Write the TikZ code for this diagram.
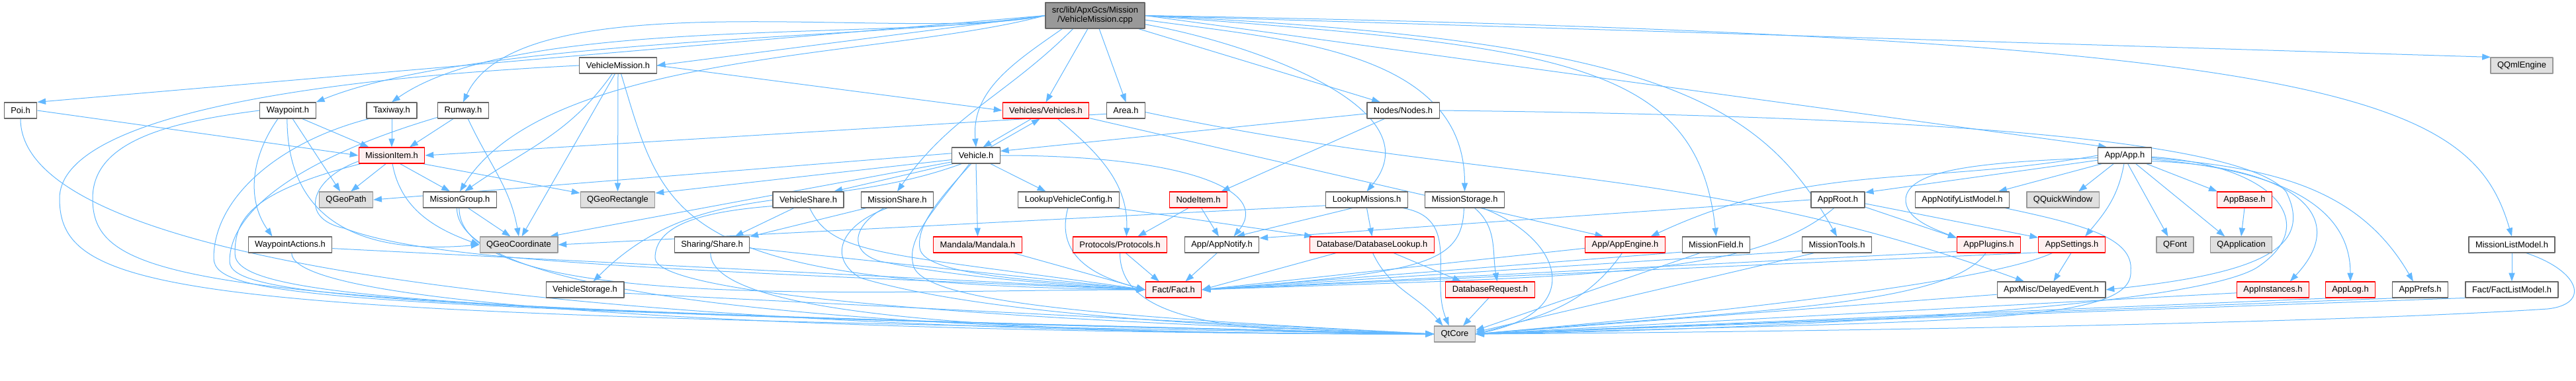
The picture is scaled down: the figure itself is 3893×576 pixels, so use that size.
\documentclass[tikz,border=0pt]{standalone}
\usepackage{fontspec}
\setmainfont{Liberation Sans}
\usetikzlibrary{arrows.meta,backgrounds}
\definecolor{edgeblue}{RGB}{99,184,255}
\definecolor{rootfill}{RGB}{153,153,153}
\definecolor{extfill}{RGB}{224,224,224}
\definecolor{extline}{RGB}{153,153,153}
\definecolor{redfill}{RGB}{255,240,240}
\definecolor{boxline}{RGB}{102,102,102}

\begin{document}
\begin{tikzpicture}[x=0.25mm, y=-0.25mm, >={Triangle[length=3.2mm,width=2.3mm]}, line join=round]
\tikzset{
  hdr/.style={draw=boxline, fill=white, line width=0.3mm, inner xsep=2.5mm, inner ysep=0pt,
    minimum height=6mm, font=\fontsize{9.2}{10}\selectfont},
  hdrred/.style={hdr, draw=red, fill=redfill},
  hdrext/.style={hdr, draw=extline, fill=extfill},
  hdrroot/.style={hdr, fill=rootfill, align=center, minimum height=9.75mm},
  dep/.style={->, draw=edgeblue, line width=0.25mm},
  low/.style 2 args={to path={.. controls +(0,#1) and +(-#2,0) .. (\tikztotarget)}},
}
\useasboundingbox (0,0) rectangle (3893,576);

\node[hdrroot] (root) at (1655,23.5) {src/lib/ApxGcs/Mission\\/VehicleMission.cpp};
\node[hdr] (vmh) at (934,99) {VehicleMission.h};
\node[hdrext] (qml) at (3811,99) {QQmlEngine};

\node[hdr] (poi) at (31,167) {Poi.h};
\node[hdr] (wp) at (435,167) {Waypoint.h};
\node[hdr] (taxi) at (592,167) {Taxiway.h};
\node[hdr] (rwy) at (700,167) {Runway.h};
\node[hdrred] (vehs) at (1580.5,167) {Vehicles/Vehicles.h};
\node[hdr] (area) at (1701.5,167) {Area.h};
\node[hdr] (nodes) at (2120.5,167) {Nodes/Nodes.h};

\node[hdrred] (mitem) at (592,235) {MissionItem.h};
\node[hdr] (veh) at (1475,235) {Vehicle.h};
\node[hdr] (app) at (3211,235) {App/App.h};

\node[hdrext] (qpath) at (523,302) {QGeoPath};
\node[hdr] (mgrp) at (695,302) {MissionGroup.h};
\node[hdrext] (qrect) at (933.5,302) {QGeoRectangle};
\node[hdr] (vshare) at (1221.5,302) {VehicleShare.h};
\node[hdr] (mshare) at (1356,302) {MissionShare.h};
\node[hdr] (lvcfg) at (1615,302) {LookupVehicleConfig.h};
\node[hdrred] (nitem) at (1811,302) {NodeItem.h};
\node[hdr] (lmis) at (2065.5,302) {LookupMissions.h};
\node[hdr] (mstor) at (2213.5,302) {MissionStorage.h};
\node[hdr] (aroot) at (2777.5,302) {AppRoot.h};
\node[hdr] (anlm) at (2965.5,302) {AppNotifyListModel.h};
\node[hdrext] (qqw) at (3117.5,302) {QQuickWindow};
\node[hdrred] (abase) at (3392,302) {AppBase.h};

\node[hdr] (wpact) at (438.5,370) {WaypointActions.h};
\node[hdrext] (qcoord) at (784,370) {QGeoCoordinate};
\node[hdr] (share) at (1076,370) {Sharing/Share.h};
\node[hdrred] (mand) at (1477.5,370) {Mandala/Mandala.h};
\node[hdrred] (proto) at (1692.5,370) {Protocols/Protocols.h};
\node[hdr] (anot) at (1846.5,370) {App/AppNotify.h};
\node[hdrred] (dblk) at (2073.5,370) {Database/DatabaseLookup.h};
\node[hdrred] (aeng) at (2456,370) {App/AppEngine.h};
\node[hdr] (mfld) at (2593.5,370) {MissionField.h};
\node[hdr] (mtool) at (2776,370) {MissionTools.h};
\node[hdrred] (aplug) at (3005.5,370) {AppPlugins.h};
\node[hdrred] (aset) at (3131,370) {AppSettings.h};
\node[hdrext] (qfont) at (3287,370) {QFont};
\node[hdrext] (qapp) at (3387,370) {QApplication};
\node[hdr] (mlist) at (3796,370) {MissionListModel.h};

\node[hdr] (vstor) at (884,438) {VehicleStorage.h};
\node[hdrred] (fact) at (1773.5,438) {Fact/Fact.h};
\node[hdrred] (dbreq) at (2252,438) {DatabaseRequest.h};
\node[hdr] (delay) at (3100,438) {ApxMisc/DelayedEvent.h};
\node[hdrred] (ainst) at (3435,438) {AppInstances.h};
\node[hdrred] (alog) at (3552,438) {AppLog.h};
\node[hdr] (apref) at (3657.5,438) {AppPrefs.h};
\node[hdr] (flist) at (3796,438) {Fact/FactListModel.h};

\node[hdrext] (qtc) at (2198.5,505) {QtCore};

\begin{scope}[on background layer]
\draw[dep] (root.west) -- (poi.north east);
\draw[dep] (root.west) to[out=188,in=22,looseness=0.6] (wp.north east);
\draw[dep] (root.west) to[out=190,in=35,looseness=0.6] (taxi.north);
\draw[dep] (root.west) to[out=192,in=65,looseness=0.6] (rwy.north);
\draw[dep] (root.west) to[out=195,in=58,looseness=0.7] (mgrp.north);
\draw[dep] (root.west) -- (vmh.east);
\draw[dep] (root.-158) to[out=-145,in=95] (veh.north);
\draw[dep] (root.-149) to[out=-135,in=55] (mshare.north);
\draw[dep] (root.-119) -- (vehs.north);
\draw[dep] (root.-73) -- (area.north);
\draw[dep] (root.-17) -- (nodes.160);
\draw[dep] (root.-10) to[out=-10,in=50] (lmis.north);
\draw[dep] (root.-5) to[out=-8,in=90] (mstor.north);
\draw[dep] (root.east) .. controls (2350,70) and (2565,90) .. (mfld.north);
\draw[dep] (root.east) .. controls (2500,60) and (2660,150) .. (mtool.north);
\draw[dep] (root.east) -- (app.155);
\draw[dep] (root.east) -- (qml.165);
\draw[dep] (root.east) .. controls (3550,55) and (3735,150) .. (mlist.north);

\draw[dep] (vmh.-125) to[out=-125,in=35] (mgrp.60);
\draw[dep] (vmh.-110) -- (qcoord.70);
\draw[dep] (vmh.south) -- (qrect.north);
\draw[dep] (vmh.-70) .. controls (1005,330) and (1010,430) .. (fact.west);
\draw[dep] (vmh.east) -- (vehs.west);
\draw[dep] (vmh.west) .. controls (450,120) and (90,180) .. (90,300) .. controls (90,455) and (300,475) .. (qtc.west);

\draw[dep] (poi.east) -- (mitem.west);
\draw[dep] (poi.south) to[low={300}{600}] (qtc.west);

\draw[dep] (wp.-30) -- (mitem.160);
\draw[dep] (wp.-60) -- (qpath.125);
\draw[dep] (wp.-140) to[out=-125,in=125] (wpact.155);
\draw[dep] (wp.-95) .. controls +(0,140) and +(-199,17) .. (qcoord.west);
\draw[dep] (wp.west) .. controls (250,185) and (140,215) .. (140,300) .. controls (140,440) and (330,462) .. (qtc.west);

\draw[dep] (taxi.south) -- (mitem.north);
\draw[dep] (taxi.-160) .. controls (420,215) and (323,300) .. (323,390) .. controls (323,450) and (500,466) .. (qtc.west);

\draw[dep] (rwy.-140) -- (mitem.25);
\draw[dep] (rwy.-60) to[out=-65,in=100] (qcoord.north);
\draw[dep] (rwy.-165) .. controls (450,240) and (347,320) .. (347,395) .. controls (347,445) and (550,469) .. (qtc.west);

\draw[dep] (mitem.-125) -- (qpath.60);
\draw[dep] (mitem.-45) -- (mgrp.140);
\draw[dep] (mitem.-15) -- (qrect.170);
\draw[dep] (mitem.-85) to[out=-80,in=160] (qcoord.west);
\draw[dep] (mitem.-170) .. controls (470,270) and (450,330) .. (520,345) .. controls (640,390) and (900,405) .. (fact.west);
\draw[dep] (mitem.-165) .. controls (380,290) and (355,330) .. (355,383) .. controls (355,445) and (600,472) .. (qtc.west);

\draw[dep] (mgrp.-45) -- (qcoord.135);
\draw[dep] (mgrp.-110) to[low={180}{400}] (qtc.west);
\draw[dep] (mgrp.-95) to[low={160}{400}] (fact.west);

\draw[dep] (wpact.-5) -- (fact.west);
\draw[dep] (wpact.-80) to[low={100}{600}] (qtc.west);

\draw[dep] (area.-170) -- (mitem.east);
\draw[dep] (area.-5) to[out=-12,in=160] (delay.163);

\draw[dep] (vehs.-150) -- (veh.50);
\draw[dep] (vehs.-35) to[out=-40,in=88] (proto.52);
\draw[dep] (vehs.-10) -- (aeng.159);

\draw[dep] (veh.30) -- (vehs.-125);
\draw[dep] (veh.-30) -- (lvcfg.160);
\draw[dep] (veh.south) -- (mand.north);
\draw[dep] (veh.east) .. controls (1800,235) and (1920,290) .. (anot.35);
\draw[dep] (veh.-160) -- (vshare.18);
\draw[dep] (veh.-170) -- (qrect.10);
\draw[dep] (veh.175) -- (qpath.east);
\draw[dep] (veh.-165) -- (qcoord.15);
\draw[dep] (veh.-150) to[out=200,in=45] (vstor.45);
\draw[dep] (veh.-120) .. controls (1420,300) and (1385,340) .. (1390,375) .. controls (1395,420) and (1600,425) .. (fact.west);
\draw[dep] (veh.-128) .. controls (1410,320) and (1370,360) .. (1380,400) .. controls (1390,460) and (1700,480) .. (qtc.west);

\draw[dep] (vshare.-150) -- (share.20);
\draw[dep] (vshare.-80) .. controls +(34,72) and +(-396,-56) .. (fact.west);
\draw[dep] (vshare.-170) .. controls (1060,320) and (990,340) .. (990,390) .. controls (990,440) and (1400,480) .. (qtc.west);

\draw[dep] (mshare.-165) -- (share.12);
\draw[dep] (mshare.-148) .. controls (1290,340) and (1280,380) .. (1330,395) .. controls (1450,420) and (1600,430) .. (fact.west);
\draw[dep] (mshare.-140) .. controls (1270,340) and (1250,390) .. (1300,420) .. controls (1500,480) and (1900,495) .. (qtc.west);

\draw[dep] (share.-100) to[low={100}{600}] (qtc.west);
\draw[dep] (share.-5) -- (fact.west);

\draw[dep] (vstor.-5) -- (qtc.west);

\draw[dep] (lvcfg.-95) .. controls +(-21,77) and +(-68,-18) .. (fact.west);
\draw[dep] (lvcfg.-10) -- (dblk.172);

\draw[dep] (mand.-13) -- (fact.west);

\draw[dep] (proto.-55) -- (fact.150);
\draw[dep] (proto.south) to[low={100}{320}] (qtc.west);

\draw[dep] (nitem.-140) -- (proto.25);
\draw[dep] (nitem.-70) -- (anot.110);

\draw[dep] (anot.-120) -- (fact.35);

\draw[dep] (nodes.-156) -- (nitem.20);
\draw[dep] (nodes.-175) -- (veh.10);
\draw[dep] (nodes.east) .. controls (2900,175) and (3390,210) .. (3455,290) .. controls (3500,380) and (3400,415) .. (delay.east);

\draw[dep] (lmis.south) -- (dblk.north);
\draw[dep] (lmis.-150) -- (anot.30);
\draw[dep] (lmis.-13) .. controls (2210,330) and (2160,420) .. (qtc.125);
\draw[dep] (lmis.-172) -- (qcoord.east);

\draw[dep] (mstor.-40) to[out=-40,in=100] (dbreq.50);
\draw[dep] (mstor.-25) .. controls (2360,360) and (2400,470) .. (qtc.east);
\draw[dep] (mstor.-95) .. controls (2210,400) and (2150,412) .. (fact.east);

\draw[dep] (dblk.-21) -- (dbreq.164);
\draw[dep] (dblk.-85) to[out=-65,in=130] (qtc.145);
\draw[dep] (dblk.-167) -- (fact.east);

\draw[dep] (dbreq.-100) -- (qtc.45);

\draw[dep] (aeng.-110) to[out=-125,in=15] (qtc.east);
\draw[dep] (aeng.-175) -- (fact.east);

\draw[dep] (mfld.-153) -- (qtc.10);
\draw[dep] (mfld.-168) -- (fact.east);

\draw[dep] (mtool.-160) -- (qtc.5);
\draw[dep] (mtool.-170) -- (fact.east);

\draw[dep] (aroot.west) -- (anot.10);
\draw[dep] (aroot.-115) .. controls +(-123,103) and +(600,-21) .. (fact.east);
\draw[dep] (aroot.-15) -- (aplug.168);
\draw[dep] (aroot.-8) -- (aset.168);

\draw[dep] (app.-170) -- (aroot.15);
\draw[dep] (app.-160) -- (anlm.13);
\draw[dep] (app.-143) -- (qqw.28);
\draw[dep] (app.-95) to[out=-100,in=50] (aset.32);
\draw[dep] (app.-70) -- (qfont.130);
\draw[dep] (app.-37) -- (qapp.153);
\draw[dep] (app.-21) -- (abase.163);
\draw[dep] (app.-12) .. controls (3450,250) and (3560,320) .. (ainst.26);
\draw[dep] (app.-8) to[out=-5,in=90] (alog.north);
\draw[dep] (app.-5) to[out=-5,in=120] (apref.130);
\draw[dep] (app.-175) .. controls (3000,245) and (2885,255) .. (2880,300) .. controls (2878,330) and (2920,345) .. (aplug.168);
\draw[dep] (app.west) to[out=190,in=25] (aeng.18);
\draw[dep] (app.-3) .. controls (3440,250) and (3510,340) .. (3410,405) .. controls (3300,470) and (2600,500) .. (qtc.east);

\draw[dep] (abase.south) -- (qapp.north);

\draw[dep] (anlm.-11) .. controls (3150,340) and (3225,360) .. (3220,410) .. controls (3225,490) and (2950,485) .. (qtc.east);

\draw[dep] (aplug.-110) .. controls +(-57,82) and +(398,-35) .. (qtc.east);
\draw[dep] (aplug.-168) -- (fact.east);

\draw[dep] (aset.-95) -- (delay.75);
\draw[dep] (aset.-157) .. controls +(-91,42) and +(398,-35) .. (qtc.east);
\draw[dep] (aset.-167) -- (fact.east);

\draw[dep] (delay.-175) -- (qtc.east);
\draw[dep] (ainst.-175) -- (qtc.east);
\draw[dep] (alog.-155) -- (qtc.east);
\draw[dep] (apref.-160) -- (qtc.east);
\draw[dep] (flist.-170) -- (qtc.east);

\draw[dep] (mlist.south) -- (flist.north);
\draw[dep] (mlist.-30) .. controls (3900,410) and (3915,460) .. (3850,467) .. controls (3500,490) and (2700,502) .. (qtc.east);
\end{scope}
\end{tikzpicture}
\end{document}
